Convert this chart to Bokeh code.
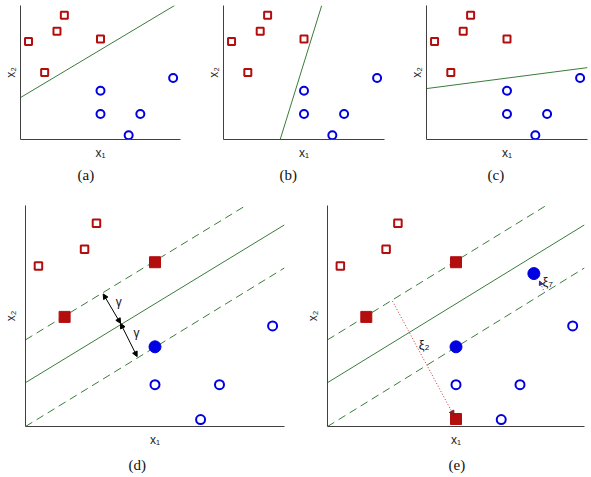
from bokeh.plotting import figure
from bokeh.layouts import column, row
from bokeh.models import FixedTicker, Label, Arrow, NormalHead, Range1d, Title
from bokeh.embed import file_html
from bokeh.resources import INLINE

# ---- data: two classes in the (x1, x2) plane ----
# squares (class +1): plain points and the two on the margin
sq_x = [0.50, 2.28, 2.74]
sq_y = [6.22, 6.87, 7.88]
sv_sq_x = [5.00, 1.51]
sv_sq_y = [6.37, 4.25]
# circles (class -1): plain points and the one on the margin
ci_x = [5.00, 7.49, 6.76, 9.54]
ci_y = [1.62, 1.62, 0.27, 3.90]
sv_ci_x = [5.00]
sv_ci_y = [3.09]
# margin violators used in the soft-margin panel
slack_sq_x = [5.00]
slack_sq_y = [0.29]
slack_ci_x = [8.03]
slack_ci_y = [5.93]

# candidate separating lines (endpoints)
line_a_x, line_a_y = [0.0, 9.63], [2.66, 8.50]
line_b_x, line_b_y = [3.52, 6.10], [0.0, 8.50]
line_c_x, line_c_y = [0.0, 10.0], [3.23, 4.56]

# maximum-margin hyperplane and its two margins
hyp_x, hyp_y = [0.0, 10.0], [1.70, 7.82]
up_x, up_y = [0.0, 8.51], [3.36, 8.57]
lo_x, lo_y = [0.0, 10.0], [0.0, 6.15]

# margin width arrows (gamma)
gam_x = [3.00, 3.67, 4.31]
gam_y = [5.14, 4.00, 2.71]
gam_lab_x = [3.60, 4.29]
gam_lab_y = [4.84, 3.62]

# slack arrows (xi)
xi2_x, xi2_y = [2.53, 4.92], [4.86, 0.42]
xi7_x, xi7_y = [8.45, 8.25], [5.19, 5.64]

RED = "#b40d0d"
BLUE = "#0000e0"
GREEN = "#3a7c3a"
AX = "#404040"
SANS = "Liberation Sans"
SERIF = "Liberation Serif"


def panel(w, h, left, right, top, bottom, y_end, cap, cap_offset, cap_standoff,
          ylab_standoff):
    p = figure(width=w, height=h, output_backend="svg", toolbar_location=None,
               x_range=Range1d(0, 10), y_range=Range1d(0, y_end),
               min_border_left=left, min_border_right=right,
               min_border_top=top, min_border_bottom=bottom,
               x_axis_label="x\u2081", y_axis_label="x\u2082")
    p.outline_line_color = None
    p.grid.visible = False
    for ax in (p.xaxis[0], p.yaxis[0]):
        ax.ticker = FixedTicker(ticks=[])
        ax.major_tick_out = 0
        ax.major_tick_in = 0
        ax.minor_tick_out = 0
        ax.minor_tick_in = 0
        ax.major_label_standoff = 0
        ax.axis_line_color = AX
        ax.axis_line_width = 1
        ax.axis_label_text_font = SANS
        ax.axis_label_text_font_style = "normal"
        ax.axis_label_text_font_size = "12px"
        ax.axis_label_text_color = "#222222"
    p.xaxis[0].axis_label_standoff = 6
    p.yaxis[0].axis_label_standoff = ylab_standoff
    # sub-figure caption under the x axis
    p.add_layout(Title(text=cap, align="left", offset=cap_offset,
                       standoff=cap_standoff, text_font=SERIF,
                       text_font_size="15px", text_font_style="normal",
                       text_color="#111111"), "below")
    return p


def base_points(p, sq_size, ci_size):
    p.scatter(sq_x + sv_sq_x, sq_y + sv_sq_y, marker="square", size=sq_size,
              fill_color="white", line_color=RED, line_width=2)
    p.scatter(ci_x + sv_ci_x, ci_y + sv_ci_y, marker="circle", size=ci_size,
              fill_color="white", line_color=BLUE, line_width=2)


# ---- top row: three arbitrary separating lines ----
TOP_Y = 8.5
tops = []
for cap, lx, ly, left, w, right, off in [("(a)", line_a_x, line_a_y, 19, 203, 23, 57),
                                          ("(b)", line_b_x, line_b_y, 20, 203, 22, 56),
                                          ("(c)", line_c_x, line_c_y, 20, 185, 4, 61)]:
    p = panel(w, 190, left, right, 5, 51, TOP_Y, cap, off, 5, 3)
    p.line(lx, ly, line_color=GREEN, line_width=1)
    base_points(p, 7, 8)
    tops.append(p)

# ---- bottom row: hard margin (d) and soft margin (e) ----
BOT_Y = 8.57


def margin_panel(w, left, right, cap, off):
    p = panel(w, 287, left, right, 15, 50, BOT_Y, cap, off, 10, 8)
    p.line(hyp_x, hyp_y, line_color=GREEN, line_width=1)
    p.line(up_x, up_y, line_color=GREEN, line_width=1, line_dash="8 5")
    p.line(lo_x, lo_y, line_color=GREEN, line_width=1, line_dash="8 5")
    p.scatter(sq_x, sq_y, marker="square", size=7.5, fill_color="white",
              line_color=RED, line_width=2)
    p.scatter(ci_x, ci_y, marker="circle", size=9, fill_color="white",
              line_color=BLUE, line_width=2)
    p.scatter(sv_sq_x, sv_sq_y, marker="square", size=11, fill_color=RED,
              line_color=RED)
    p.scatter(sv_ci_x, sv_ci_y, marker="circle", size=12, fill_color=BLUE,
              line_color=BLUE)
    return p


pd_ = margin_panel(296, 25, 12, "(d)", 103)
for i in range(2):
    pd_.add_layout(Arrow(x_start=gam_x[i], y_start=gam_y[i],
                         x_end=gam_x[i + 1], y_end=gam_y[i + 1],
                         line_color="black", line_width=1,
                         start=NormalHead(size=5, fill_color="black", line_color="black"),
                         end=NormalHead(size=5, fill_color="black", line_color="black")))
    pd_.add_layout(Label(x=gam_lab_x[i], y=gam_lab_y[i], text="\u03b3",
                         text_align="center", text_baseline="middle",
                         text_font=SANS, text_font_size="12px", text_color="#111111"))

pe = margin_panel(295, 31, 7, "(e)", 121)
pe.scatter(slack_sq_x, slack_sq_y, marker="square", size=11, fill_color=RED,
           line_color=RED)
pe.scatter(slack_ci_x, slack_ci_y, marker="circle", size=12, fill_color=BLUE,
           line_color=BLUE)
pe.add_layout(Arrow(x_start=xi2_x[0], y_start=xi2_y[0], x_end=xi2_x[1], y_end=xi2_y[1],
                    line_color="#d03030", line_width=1, line_dash="1 2",
                    end=NormalHead(size=5, fill_color="#802020", line_color="#802020")))
pe.add_layout(Arrow(x_start=xi7_x[0], y_start=xi7_y[0], x_end=xi7_x[1], y_end=xi7_y[1],
                    line_color="#4040e0", line_width=1, line_dash="1 2",
                    end=NormalHead(size=4, fill_color="#303090", line_color="#303090")))
pe.add_layout(Label(x=3.76, y=3.18, text="\u03be\u2082", text_align="center",
                    text_baseline="middle", text_font=SANS, text_font_size="13px",
                    text_color="#111111"))
pe.add_layout(Label(x=8.57, y=5.61, text="\u03be\u2087", text_align="center",
                    text_baseline="middle", text_font=SANS, text_font_size="13px",
                    text_color="#111111"))

layout = column(row(*tops), row(pd_, pe))
open("out.html", "w").write(file_html(layout, INLINE))
